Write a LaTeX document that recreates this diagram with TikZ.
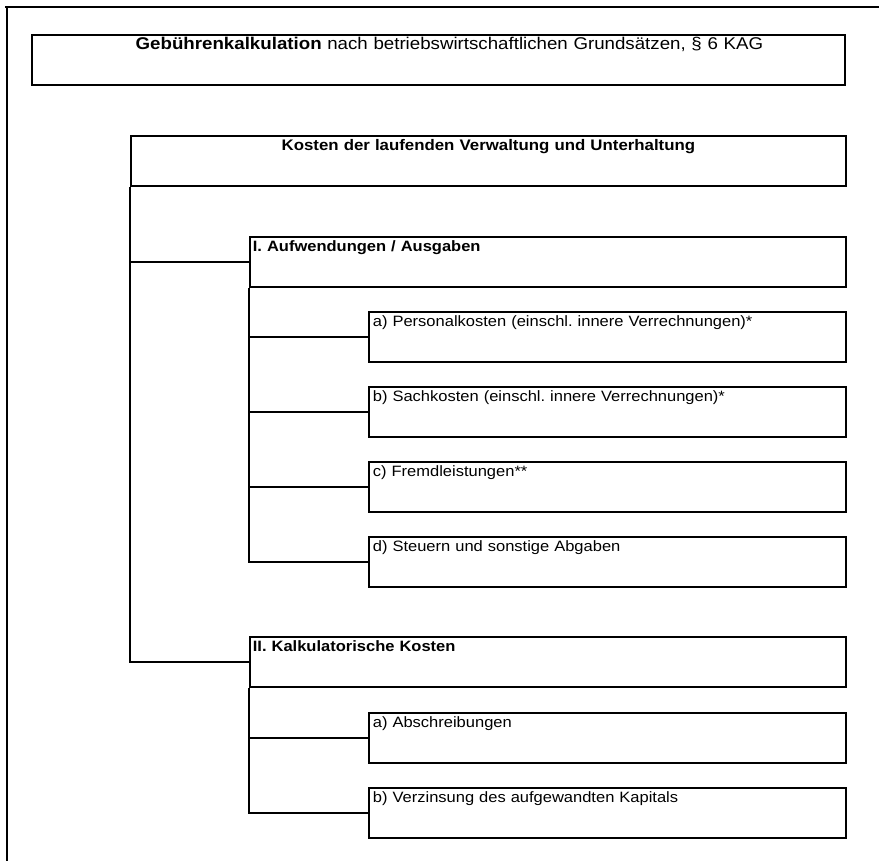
\documentclass[tikz,border=0pt]{standalone}
\usepackage{fontspec}
\setmainfont[FakeStretch=1.1]{Liberation Sans}
\frenchspacing
\begin{document}
\begin{tikzpicture}[x=1pt,y=-1pt,
  frame/.style={line width=2pt},
  boxbase/.style={draw, line width=1.8pt, inner ysep=0pt, anchor=north west,
    text height=15pt, text depth=35pt, font=\fontsize{15}{18}\selectfont},
  leftbox/.style={boxbase, inner xsep=4pt, align=left},
  link/.style={line width=1.8pt}
]
\useasboundingbox (0,0) rectangle (879,861);
% outer frame (only top and left edges visible)
\draw[frame] (5,7) -- (879,7);
\draw[frame] (7,7) -- (7,861);

\node[boxbase, inner xsep=0pt, text width=813pt, align=center, text height=14.5pt, text depth=35.5pt,
  font=\fontsize{17}{20}\selectfont] (T) at (31,34)
  {\hspace*{22pt}\textbf{Gebührenkalkulation} nach betriebswirtschaftlichen Grundsätzen, § 6 KAG};

\node[boxbase, inner xsep=0pt, text width=715pt, align=center, font=\fontsize{15.3}{18}\selectfont] (K) at (130,135)
  {\textbf{Kosten der laufenden Verwaltung und Unterhaltung}};

\node[leftbox, inner xsep=3pt, text width=590pt] (A1) at (249,236) {\textbf{I. Aufwendungen / Ausgaben}};
\node[leftbox, text width=469pt] (a) at (368,311) {a) Personalkosten (einschl. innere Verrechnungen)*};
\node[leftbox, text width=469pt] (b) at (368,386) {b) Sachkosten (einschl. innere Verrechnungen)*};
\node[leftbox, text width=469pt] (c) at (368,461) {c) Fremdleistungen**};
\node[leftbox, text width=469pt] (d) at (368,536) {d) Steuern und sonstige Abgaben};

\node[leftbox, inner xsep=3pt, text width=590pt] (A2) at (249,636) {\textbf{II. Kalkulatorische Kosten}};
\node[leftbox, text width=469pt] (e) at (368,712) {a) Abschreibungen};
\node[leftbox, text width=469pt] (f) at (368,787) {b) Verzinsung des aufgewandten Kapitals};

% connectors
\draw[link] (K.south west) |- (A2.west);
\draw[link] (K.south west |- A1.west) -- (A1.west);
\draw[link] (A1.south west) |- (d.west);
\draw[link] (A1.south west |- a.west) -- (a.west);
\draw[link] (A1.south west |- b.west) -- (b.west);
\draw[link] (A1.south west |- c.west) -- (c.west);
\draw[link] (A2.south west) |- (f.west);
\draw[link] (A2.south west |- e.west) -- (e.west);
\end{tikzpicture}
\end{document}
